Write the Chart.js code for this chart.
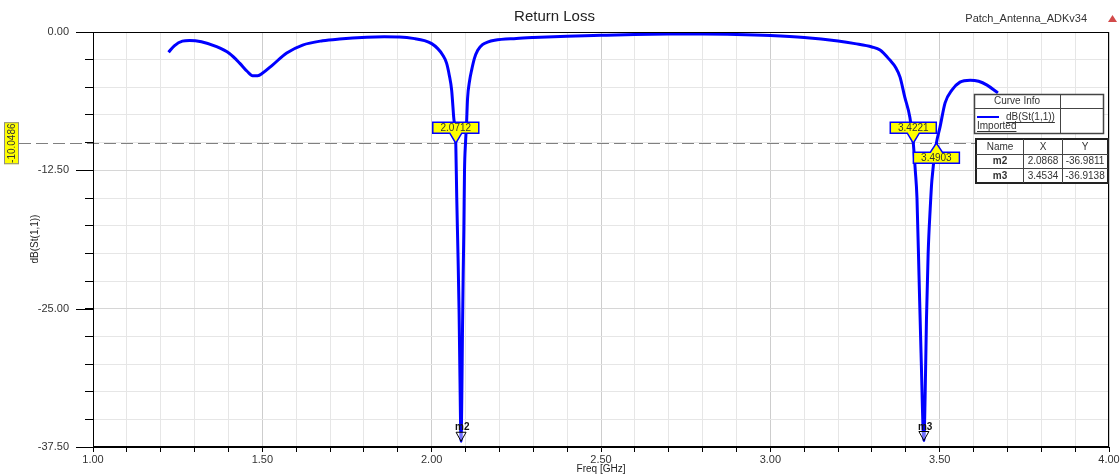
<!DOCTYPE html>
<html><head><meta charset="utf-8">
<script src="https://cdn.jsdelivr.net/npm/chart.js@4.4.1/dist/chart.umd.min.js"></script>
<style>html,body{margin:0;padding:0;background:#fff;overflow:hidden}canvas{display:block}</style>
</head><body>
<canvas id="c" width="1120" height="474"></canvas>
<script>
const chartTitle = 'Return Loss';
const projectName = 'Patch_Antenna_ADKv34';
const xAxisTitle = 'Freq [GHz]';
const yAxisTitle = 'dB(St(1,1))';
const traceName = 'dB(St(1,1))';
const traceSource = 'Imported';

const freqGHz = [1.223,1.240,1.264,1.285,1.320,1.365,1.403,1.433,1.455,1.471,1.486,1.501,1.530,1.572,1.619,1.678,1.728,1.808,1.860,1.905,1.950,1.979,2.000,2.018,2.032,2.044,2.052,2.059,2.065,2.0712,2.074,2.078,2.081,2.083,2.0868,2.089,2.091,2.093,2.095,2.097,2.100,2.103,2.106,2.112,2.118,2.126,2.136,2.150,2.165,2.186,2.250,2.300,2.400,2.500,2.600,2.700,2.800,2.900,3.000,3.100,3.200,3.250,3.300,3.324,3.353,3.370,3.383,3.397,3.412,3.4221,3.428,3.433,3.439,3.445,3.4534,3.457,3.461,3.466,3.472,3.477,3.4903,3.501,3.516,3.536,3.560,3.590,3.615,3.640,3.672];
const s11dB = [-1.84,-1.25,-0.82,-0.76,-0.88,-1.33,-1.95,-2.81,-3.55,-3.96,-3.95,-3.71,-2.99,-1.90,-1.18,-0.79,-0.63,-0.48,-0.44,-0.46,-0.60,-0.78,-1.05,-1.50,-2.05,-2.81,-3.90,-5.25,-7.70,-10.05,-14.9,-20.5,-25.4,-30.0,-36.98,-33.0,-27.0,-22.0,-17.9,-12.5,-10.0,-8.24,-6.0,-4.4,-3.44,-2.4,-1.65,-1.15,-0.91,-0.74,-0.58,-0.50,-0.38,-0.30,-0.23,-0.19,-0.18,-0.22,-0.32,-0.50,-0.82,-1.05,-1.35,-1.63,-2.54,-3.2,-4.08,-5.89,-7.70,-10.05,-12.5,-15.0,-22.0,-29.0,-36.91,-33.0,-26.0,-20.0,-16.0,-13.4,-10.05,-8.6,-6.4,-5.25,-4.53,-4.35,-4.45,-4.80,-5.50];

const xLabelValues = [1.0,1.5,2.0,2.5,3.0,3.5,4.0];
const yLabelValues = [0,-12.5,-25,-37.5];

const markerNames = ['m2','m3'];
const markerFreq = [2.0868,3.4534];
const markerDb = [-36.9811,-36.9138];

const crossFreq = [2.0712,3.4221,3.4903];
const crossDb = -10.0486;
const crossBelow = [false,false,true];

const FONT = 'Arial, "Liberation Sans", sans-serif';
const isLabel = (v, list) => list.some(l => Math.abs(l - v) < 1e-6);

const overlay = {
  id: 'overlay',
  beforeDatasetsDraw(chart) {
    const {ctx, chartArea: a, scales: {y}} = chart;
    const yy = Math.round(y.getPixelForValue(crossDb)) + 0.5;
    ctx.save();
    ctx.strokeStyle = '#808080'; ctx.lineWidth = 1; ctx.setLineDash([12, 5]);
    ctx.beginPath(); ctx.moveTo(19, yy); ctx.lineTo(a.right, yy); ctx.stroke();
    ctx.restore();
  },
  afterDraw(chart) {
    const {ctx, chartArea: a, scales: {x, y}} = chart;
    ctx.save();
    ctx.strokeStyle = '#000'; ctx.lineWidth = 1;
    ctx.strokeRect(Math.round(a.left) + 0.5, Math.round(a.top) + 0.5, Math.round(a.right - a.left) - 1, Math.round(a.bottom - a.top) - 1);
    yLabelValues.forEach(v => {
      const py = Math.round(y.getPixelForValue(v)) + 0.5;
      ctx.beginPath(); ctx.moveTo(76, py); ctx.lineTo(a.left, py); ctx.stroke();
    });
    const yy = y.getPixelForValue(crossDb);
    ctx.fillStyle = '#ffff00'; ctx.fillRect(4, yy - 21, 15, 42);
    ctx.strokeStyle = '#8c8c8c'; ctx.strokeRect(4.5, yy - 20.5, 14, 41);
    ctx.save();
    ctx.translate(12, yy); ctx.rotate(-Math.PI / 2);
    ctx.fillStyle = '#333'; ctx.font = '10px ' + FONT; ctx.textAlign = 'center'; ctx.textBaseline = 'middle';
    ctx.fillText(crossDb.toFixed(4), 0, 0);
    ctx.restore();
    crossFreq.forEach((f, i) => {
      const px = x.getPixelForValue(f), py = y.getPixelForValue(crossDb);
      const w = 46, l = px - w / 2, r = px + w / 2;
      ctx.beginPath();
      if (!crossBelow[i]) {
        const t = py - 21, b = py - 10;
        ctx.moveTo(l, t); ctx.lineTo(r, t); ctx.lineTo(r, b); ctx.lineTo(px + 6, b);
        ctx.lineTo(px, py); ctx.lineTo(px - 6, b); ctx.lineTo(l, b); ctx.closePath();
      } else {
        const t = py + 9, b = py + 20;
        ctx.moveTo(l, t); ctx.lineTo(px - 6, t); ctx.lineTo(px, py); ctx.lineTo(px + 6, t);
        ctx.lineTo(r, t); ctx.lineTo(r, b); ctx.lineTo(l, b); ctx.closePath();
      }
      ctx.fillStyle = '#ffff00'; ctx.fill();
      ctx.strokeStyle = '#0000ff'; ctx.lineWidth = 1.5; ctx.stroke();
      ctx.fillStyle = '#333'; ctx.font = '10px ' + FONT; ctx.textAlign = 'center'; ctx.textBaseline = 'middle';
      ctx.fillText(f.toFixed(4), px, crossBelow[i] ? py + 15 : py - 15);
    });
    markerNames.forEach((n, i) => {
      const px = x.getPixelForValue(markerFreq[i]), py = y.getPixelForValue(markerDb[i]);
      ctx.beginPath(); ctx.moveTo(px - 5, py - 9); ctx.lineTo(px + 5, py - 9); ctx.lineTo(px, py); ctx.closePath();
      ctx.fillStyle = 'rgba(255,255,255,0.45)'; ctx.fill();
      ctx.strokeStyle = '#000'; ctx.lineWidth = 1; ctx.stroke();
      ctx.fillStyle = '#111'; ctx.font = 'bold 10px ' + FONT; ctx.textAlign = 'left'; ctx.textBaseline = 'alphabetic';
      ctx.fillText(n, px - 6, py - 11);
    });
    ctx.lineWidth = 1; ctx.fillStyle = '#fff'; ctx.fillRect(974, 94, 129, 39);
    ctx.strokeStyle = '#444'; ctx.lineWidth = 1.5; ctx.strokeRect(974.5, 94.5, 129, 39);
    ctx.lineWidth = 1;
    ctx.beginPath(); ctx.moveTo(974, 108.5); ctx.lineTo(1103, 108.5); ctx.moveTo(1060.5, 94); ctx.lineTo(1060.5, 133); ctx.stroke();
    ctx.fillStyle = '#333'; ctx.font = '10px ' + FONT; ctx.textAlign = 'center'; ctx.textBaseline = 'middle';
    ctx.fillText('Curve Info', 1017, 101.5);
    ctx.strokeStyle = '#0000ff'; ctx.lineWidth = 2;
    ctx.beginPath(); ctx.moveTo(977, 117); ctx.lineTo(999, 117); ctx.stroke();
    ctx.textAlign = 'left'; ctx.fillStyle = '#333';
    ctx.fillText(traceName, 1006, 117);
    let tw = ctx.measureText(traceName).width;
    ctx.strokeStyle = '#333'; ctx.lineWidth = 1;
    ctx.beginPath(); ctx.moveTo(1006, 122.5); ctx.lineTo(1006 + tw, 122.5); ctx.stroke();
    ctx.fillText(traceSource, 977, 126);
    tw = ctx.measureText(traceSource).width;
    ctx.beginPath(); ctx.moveTo(977, 131.5); ctx.lineTo(977 + tw, 131.5); ctx.stroke();
    ctx.fillStyle = '#fff'; ctx.fillRect(976, 139, 132, 44);
    ctx.strokeStyle = '#222'; ctx.lineWidth = 2; ctx.strokeRect(976, 139, 132, 44);
    ctx.lineWidth = 1; ctx.strokeStyle = '#444';
    ctx.beginPath();
    ctx.moveTo(1023.5, 139); ctx.lineTo(1023.5, 183); ctx.moveTo(1062.5, 139); ctx.lineTo(1062.5, 183);
    ctx.moveTo(976, 154.5); ctx.lineTo(1108, 154.5); ctx.moveTo(976, 168.5); ctx.lineTo(1108, 168.5);
    ctx.stroke();
    ctx.fillStyle = '#333'; ctx.textAlign = 'center'; ctx.font = '10px ' + FONT;
    ctx.fillText('Name', 1000, 147); ctx.fillText('X', 1043, 147); ctx.fillText('Y', 1085, 147);
    markerNames.forEach((n, i) => {
      const ry = 161.5 + i * 14.5;
      ctx.font = 'bold 10px ' + FONT; ctx.fillText(n, 1000, ry);
      ctx.font = '10px ' + FONT;
      ctx.fillText(markerFreq[i].toFixed(4), 1043, ry);
      ctx.fillText(markerDb[i].toFixed(4), 1085, ry);
    });
    ctx.fillStyle = '#333'; ctx.font = '11px ' + FONT; ctx.textAlign = 'right'; ctx.textBaseline = 'middle';
    ctx.fillText(projectName, 1087, 19);
    ctx.fillStyle = '#d24a4a';
    ctx.beginPath(); ctx.moveTo(1108, 22); ctx.lineTo(1117, 22); ctx.lineTo(1112.5, 15); ctx.closePath(); ctx.fill();
    ctx.fillStyle = '#222'; ctx.font = '10px ' + FONT; ctx.textAlign = 'center'; ctx.textBaseline = 'middle';
    ctx.fillText(xAxisTitle, (a.left + a.right) / 2, 469);
    ctx.save(); ctx.translate(35, 239); ctx.rotate(-Math.PI / 2);
    ctx.fillText(yAxisTitle, 0, 0); ctx.restore();
    ctx.restore();
  }
};

new Chart(document.getElementById('c'), {
  type: 'line',
  data: {
    datasets: [{
      label: traceName,
      data: freqGHz.map((f, i) => ({x: f, y: s11dB[i]})),
      borderColor: '#0000ff', borderWidth: 3, pointRadius: 0,
      cubicInterpolationMode: 'monotone', fill: false
    }]
  },
  options: {
    responsive: false, animation: false, devicePixelRatio: 1,
    layout: {padding: {left: 0, right: 11, top: 0, bottom: 0}},
    plugins: {
      legend: {display: false}, tooltip: {enabled: false},
      title: {display: true, text: chartTitle, color: '#222', font: {family: FONT, size: 15, weight: 'normal'}, padding: {top: 8, bottom: 6}}
    },
    scales: {
      x: {
        type: 'linear', min: 1, max: 4,
        afterFit: s => { s.height = 27; s.paddingRight = 0; },
        ticks: {stepSize: 0.1, autoSkip: false, maxRotation: 0, minRotation: 0, padding: 1, color: '#333', font: {family: FONT, size: 11},
          callback: v => isLabel(v, xLabelValues) ? Number(v).toFixed(2) : ''},
        grid: {color: c => isLabel(c.tick.value, xLabelValues) ? '#cdcdcd' : '#e6e6e6', tickColor: '#000', tickLength: 5, lineWidth: 1},
        border: {display: true, color: '#000', width: 1}
      },
      y: {
        type: 'linear', min: -37.5, max: 0,
        afterFit: s => { s.width = 93; },
        ticks: {stepSize: 2.5, autoSkip: false, padding: 16, color: '#333', font: {family: FONT, size: 11},
          callback: v => isLabel(v, yLabelValues) ? Number(v).toFixed(2) : ''},
        grid: {color: c => isLabel(c.tick.value, yLabelValues) ? '#d6d6d6' : '#e6e6e6', tickColor: '#000', tickLength: 8, lineWidth: 1},
        border: {display: true, color: '#000', width: 1}
      }
    }
  },
  plugins: [overlay]
});
</script>
</body></html>
